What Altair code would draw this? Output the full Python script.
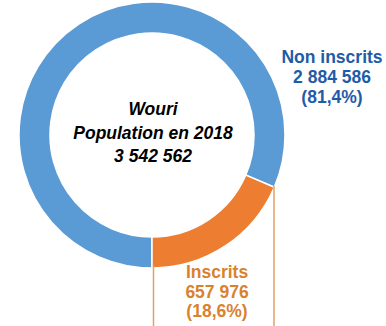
import math
import altair as alt
import pandas as pd

categories = ["Non inscrits", "Inscrits"]
values = [2884586, 657976]
region = "Wouri"
year = 2018

total = sum(values)

def fmt_int(v):
    return f"{v:,}".replace(",", " ")

def fmt_pct(v):
    return "(" + f"{100 * v / total:.1f}".replace(".", ",") + "%)"

df = pd.DataFrame({"cat": categories, "val": values, "order": [0, 1]})

BLUE = "#5B9BD5"
ORANGE = "#ED7D31"
CX, CY = 152, 135

arc = alt.Chart(df).mark_arc(
    outerRadius=133, innerRadius=102, stroke="white", strokeWidth=1.5
).encode(
    theta=alt.Theta("val:Q", stack=True, scale=alt.Scale(range=[math.pi, 3 * math.pi])),
    order=alt.Order("order:Q"),
    color=alt.Color("cat:N", scale=alt.Scale(domain=categories, range=[BLUE, ORANGE]), legend=None),
    x=alt.value(CX),
    y=alt.value(CY),
)

base = alt.Chart(pd.DataFrame({"a": [0]}))

lines_color = "#E3A164"
rule1 = base.mark_rule(color=lines_color, strokeWidth=1.5).encode(
    x=alt.value(274), y=alt.value(186), y2=alt.value(326)
)
rule2 = base.mark_rule(color=lines_color, strokeWidth=1.5).encode(
    x=alt.value(153.5), y=alt.value(265), y2=alt.value(326)
)

font = "Liberation Sans"

center_txt = base.mark_text(
    text=[region, f"Population en {year}", fmt_int(total)],
    font=font, fontSize=17.5, fontWeight="bold", fontStyle="italic",
    color="black", align="center", baseline="alphabetic", lineHeight=23.5,
).encode(x=alt.value(153), y=alt.value(115))

non_txt = base.mark_text(
    text=[categories[0], fmt_int(values[0]), fmt_pct(values[0])],
    font=font, fontSize=17.5, fontWeight="bold",
    color="#1F5CA8", align="center", baseline="alphabetic", lineHeight=20,
).encode(x=alt.value(332), y=alt.value(63))

ins_txt = base.mark_text(
    text=[categories[1], fmt_int(values[1]), fmt_pct(values[1])],
    font=font, fontSize=17.5, fontWeight="bold",
    color="#D9822E", align="center", baseline="alphabetic", lineHeight=19.5,
).encode(x=alt.value(217), y=alt.value(278))

chart = alt.layer(arc, rule1, rule2, center_txt, non_txt, ins_txt).properties(
    width=386, height=326, padding=0, autosize="none"
).configure_view(stroke=None)

chart.save("out.html", embed_options={"renderer": "svg", "actions": False})
